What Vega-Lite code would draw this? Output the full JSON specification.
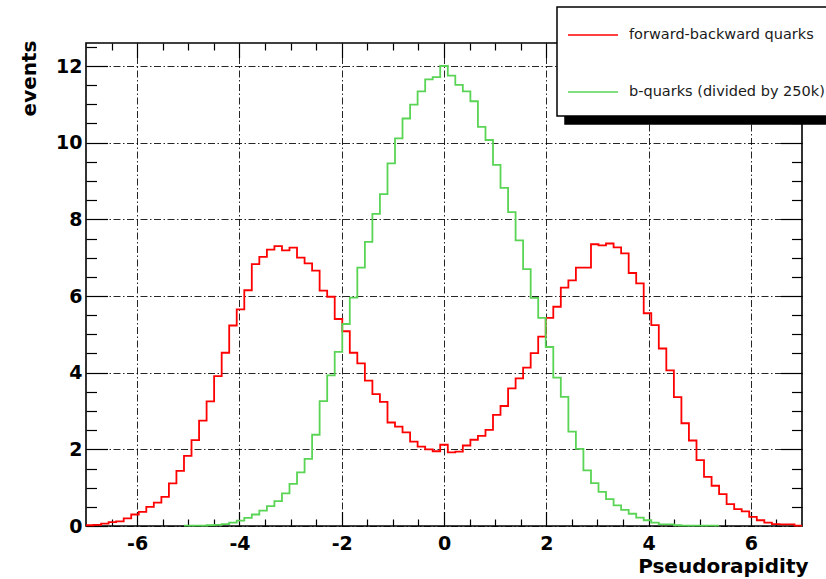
{
  "$schema": "https://vega.github.io/schema/vega-lite/v6.json",
  "width": 716,
  "height": 483,
  "autosize": {"type": "none"},
  "padding": {"left": 86, "top": 43, "right": 24, "bottom": 53},
  "background": "white",
  "datasets": {
    "h": [
      {"s":"forward-backward quarks","eta":-7,"n":0.02},{"s":"forward-backward quarks","eta":-6.853,"n":0.03},{"s":"forward-backward quarks","eta":-6.705,"n":0.06},{"s":"forward-backward quarks","eta":-6.558,"n":0.10},{"s":"forward-backward quarks","eta":-6.411,"n":0.12},{"s":"forward-backward quarks","eta":-6.263,"n":0.20},{"s":"forward-backward quarks","eta":-6.116,"n":0.30},{"s":"forward-backward quarks","eta":-5.968,"n":0.37},{"s":"forward-backward quarks","eta":-5.821,"n":0.50},{"s":"forward-backward quarks","eta":-5.674,"n":0.61},{"s":"forward-backward quarks","eta":-5.526,"n":0.76},{"s":"forward-backward quarks","eta":-5.379,"n":1.11},{"s":"forward-backward quarks","eta":-5.232,"n":1.44},{"s":"forward-backward quarks","eta":-5.084,"n":1.83},{"s":"forward-backward quarks","eta":-4.937,"n":2.24},{"s":"forward-backward quarks","eta":-4.789,"n":2.75},{"s":"forward-backward quarks","eta":-4.642,"n":3.25},{"s":"forward-backward quarks","eta":-4.495,"n":3.91},{"s":"forward-backward quarks","eta":-4.347,"n":4.52},{"s":"forward-backward quarks","eta":-4.2,"n":5.23},{"s":"forward-backward quarks","eta":-4.053,"n":5.65},{"s":"forward-backward quarks","eta":-3.905,"n":6.15},{"s":"forward-backward quarks","eta":-3.758,"n":6.83},{"s":"forward-backward quarks","eta":-3.611,"n":7.02},{"s":"forward-backward quarks","eta":-3.463,"n":7.21},{"s":"forward-backward quarks","eta":-3.316,"n":7.30},{"s":"forward-backward quarks","eta":-3.168,"n":7.19},{"s":"forward-backward quarks","eta":-3.021,"n":7.26},{"s":"forward-backward quarks","eta":-2.874,"n":7.00},{"s":"forward-backward quarks","eta":-2.726,"n":6.85},{"s":"forward-backward quarks","eta":-2.579,"n":6.66},{"s":"forward-backward quarks","eta":-2.432,"n":6.14},{"s":"forward-backward quarks","eta":-2.284,"n":5.98},{"s":"forward-backward quarks","eta":-2.137,"n":5.40},{"s":"forward-backward quarks","eta":-1.989,"n":5.08},{"s":"forward-backward quarks","eta":-1.842,"n":4.52},{"s":"forward-backward quarks","eta":-1.695,"n":4.24},{"s":"forward-backward quarks","eta":-1.547,"n":3.79},{"s":"forward-backward quarks","eta":-1.4,"n":3.44},{"s":"forward-backward quarks","eta":-1.253,"n":3.24},{"s":"forward-backward quarks","eta":-1.105,"n":2.70},{"s":"forward-backward quarks","eta":-0.958,"n":2.59},{"s":"forward-backward quarks","eta":-0.811,"n":2.44},{"s":"forward-backward quarks","eta":-0.663,"n":2.20},{"s":"forward-backward quarks","eta":-0.516,"n":2.07},{"s":"forward-backward quarks","eta":-0.368,"n":2.00},{"s":"forward-backward quarks","eta":-0.221,"n":1.95},{"s":"forward-backward quarks","eta":-0.074,"n":2.12},{"s":"forward-backward quarks","eta":0.074,"n":1.92},{"s":"forward-backward quarks","eta":0.221,"n":1.94},{"s":"forward-backward quarks","eta":0.368,"n":2.10},{"s":"forward-backward quarks","eta":0.516,"n":2.25},{"s":"forward-backward quarks","eta":0.663,"n":2.35},{"s":"forward-backward quarks","eta":0.811,"n":2.51},{"s":"forward-backward quarks","eta":0.958,"n":2.90},{"s":"forward-backward quarks","eta":1.105,"n":3.13},{"s":"forward-backward quarks","eta":1.253,"n":3.59},{"s":"forward-backward quarks","eta":1.4,"n":3.85},{"s":"forward-backward quarks","eta":1.547,"n":4.13},{"s":"forward-backward quarks","eta":1.695,"n":4.51},{"s":"forward-backward quarks","eta":1.842,"n":4.94},{"s":"forward-backward quarks","eta":1.989,"n":5.43},{"s":"forward-backward quarks","eta":2.137,"n":5.72},{"s":"forward-backward quarks","eta":2.284,"n":6.22},{"s":"forward-backward quarks","eta":2.432,"n":6.41},{"s":"forward-backward quarks","eta":2.579,"n":6.74},{"s":"forward-backward quarks","eta":2.726,"n":6.74},{"s":"forward-backward quarks","eta":2.874,"n":7.35},{"s":"forward-backward quarks","eta":3.021,"n":7.32},{"s":"forward-backward quarks","eta":3.168,"n":7.37},{"s":"forward-backward quarks","eta":3.316,"n":7.27},{"s":"forward-backward quarks","eta":3.463,"n":7.11},{"s":"forward-backward quarks","eta":3.611,"n":6.60},{"s":"forward-backward quarks","eta":3.758,"n":6.33},{"s":"forward-backward quarks","eta":3.905,"n":5.55},{"s":"forward-backward quarks","eta":4.053,"n":5.24},{"s":"forward-backward quarks","eta":4.2,"n":4.63},{"s":"forward-backward quarks","eta":4.347,"n":4.06},{"s":"forward-backward quarks","eta":4.495,"n":3.36},{"s":"forward-backward quarks","eta":4.642,"n":2.68},{"s":"forward-backward quarks","eta":4.789,"n":2.23},{"s":"forward-backward quarks","eta":4.937,"n":1.72},{"s":"forward-backward quarks","eta":5.084,"n":1.28},{"s":"forward-backward quarks","eta":5.232,"n":1.05},{"s":"forward-backward quarks","eta":5.379,"n":0.83},{"s":"forward-backward quarks","eta":5.526,"n":0.57},{"s":"forward-backward quarks","eta":5.674,"n":0.44},{"s":"forward-backward quarks","eta":5.821,"n":0.38},{"s":"forward-backward quarks","eta":5.968,"n":0.24},{"s":"forward-backward quarks","eta":6.116,"n":0.15},{"s":"forward-backward quarks","eta":6.263,"n":0.09},{"s":"forward-backward quarks","eta":6.411,"n":0.05},{"s":"forward-backward quarks","eta":6.558,"n":0.04},{"s":"forward-backward quarks","eta":6.705,"n":0.04},{"s":"forward-backward quarks","eta":6.853,"n":0.01},{"s":"forward-backward quarks","eta":7,"n":0.01},
      {"s":"b-quarks (divided by 250k)","eta":-5.084,"n":0.01},{"s":"b-quarks (divided by 250k)","eta":-4.937,"n":0.01},{"s":"b-quarks (divided by 250k)","eta":-4.789,"n":0.01},{"s":"b-quarks (divided by 250k)","eta":-4.642,"n":0.02},{"s":"b-quarks (divided by 250k)","eta":-4.495,"n":0.03},{"s":"b-quarks (divided by 250k)","eta":-4.347,"n":0.05},{"s":"b-quarks (divided by 250k)","eta":-4.2,"n":0.09},{"s":"b-quarks (divided by 250k)","eta":-4.053,"n":0.14},{"s":"b-quarks (divided by 250k)","eta":-3.905,"n":0.21},{"s":"b-quarks (divided by 250k)","eta":-3.758,"n":0.30},{"s":"b-quarks (divided by 250k)","eta":-3.611,"n":0.40},{"s":"b-quarks (divided by 250k)","eta":-3.463,"n":0.52},{"s":"b-quarks (divided by 250k)","eta":-3.316,"n":0.65},{"s":"b-quarks (divided by 250k)","eta":-3.168,"n":0.85},{"s":"b-quarks (divided by 250k)","eta":-3.021,"n":1.10},{"s":"b-quarks (divided by 250k)","eta":-2.874,"n":1.40},{"s":"b-quarks (divided by 250k)","eta":-2.726,"n":1.75},{"s":"b-quarks (divided by 250k)","eta":-2.579,"n":2.38},{"s":"b-quarks (divided by 250k)","eta":-2.432,"n":3.26},{"s":"b-quarks (divided by 250k)","eta":-2.284,"n":3.93},{"s":"b-quarks (divided by 250k)","eta":-2.137,"n":4.54},{"s":"b-quarks (divided by 250k)","eta":-1.989,"n":5.27},{"s":"b-quarks (divided by 250k)","eta":-1.842,"n":5.96},{"s":"b-quarks (divided by 250k)","eta":-1.695,"n":6.74},{"s":"b-quarks (divided by 250k)","eta":-1.547,"n":7.41},{"s":"b-quarks (divided by 250k)","eta":-1.4,"n":8.14},{"s":"b-quarks (divided by 250k)","eta":-1.253,"n":8.66},{"s":"b-quarks (divided by 250k)","eta":-1.105,"n":9.46},{"s":"b-quarks (divided by 250k)","eta":-0.958,"n":10.11},{"s":"b-quarks (divided by 250k)","eta":-0.811,"n":10.63},{"s":"b-quarks (divided by 250k)","eta":-0.663,"n":10.99},{"s":"b-quarks (divided by 250k)","eta":-0.516,"n":11.34},{"s":"b-quarks (divided by 250k)","eta":-0.368,"n":11.65},{"s":"b-quarks (divided by 250k)","eta":-0.221,"n":11.71},{"s":"b-quarks (divided by 250k)","eta":-0.074,"n":12.00},{"s":"b-quarks (divided by 250k)","eta":0.074,"n":11.75},{"s":"b-quarks (divided by 250k)","eta":0.221,"n":11.51},{"s":"b-quarks (divided by 250k)","eta":0.368,"n":11.34},{"s":"b-quarks (divided by 250k)","eta":0.516,"n":11.08},{"s":"b-quarks (divided by 250k)","eta":0.663,"n":10.41},{"s":"b-quarks (divided by 250k)","eta":0.811,"n":10.07},{"s":"b-quarks (divided by 250k)","eta":0.958,"n":9.42},{"s":"b-quarks (divided by 250k)","eta":1.105,"n":8.82},{"s":"b-quarks (divided by 250k)","eta":1.253,"n":8.19},{"s":"b-quarks (divided by 250k)","eta":1.4,"n":7.45},{"s":"b-quarks (divided by 250k)","eta":1.547,"n":6.70},{"s":"b-quarks (divided by 250k)","eta":1.695,"n":5.95},{"s":"b-quarks (divided by 250k)","eta":1.842,"n":5.43},{"s":"b-quarks (divided by 250k)","eta":1.989,"n":4.67},{"s":"b-quarks (divided by 250k)","eta":2.137,"n":3.87},{"s":"b-quarks (divided by 250k)","eta":2.284,"n":3.37},{"s":"b-quarks (divided by 250k)","eta":2.432,"n":2.46},{"s":"b-quarks (divided by 250k)","eta":2.579,"n":2.01},{"s":"b-quarks (divided by 250k)","eta":2.726,"n":1.45},{"s":"b-quarks (divided by 250k)","eta":2.874,"n":1.12},{"s":"b-quarks (divided by 250k)","eta":3.021,"n":0.89},{"s":"b-quarks (divided by 250k)","eta":3.168,"n":0.70},{"s":"b-quarks (divided by 250k)","eta":3.316,"n":0.54},{"s":"b-quarks (divided by 250k)","eta":3.463,"n":0.42},{"s":"b-quarks (divided by 250k)","eta":3.611,"n":0.32},{"s":"b-quarks (divided by 250k)","eta":3.758,"n":0.22},{"s":"b-quarks (divided by 250k)","eta":3.905,"n":0.15},{"s":"b-quarks (divided by 250k)","eta":4.053,"n":0.09},{"s":"b-quarks (divided by 250k)","eta":4.2,"n":0.04},{"s":"b-quarks (divided by 250k)","eta":4.347,"n":0.04},{"s":"b-quarks (divided by 250k)","eta":4.495,"n":0.02},{"s":"b-quarks (divided by 250k)","eta":4.642,"n":0.01},{"s":"b-quarks (divided by 250k)","eta":4.789,"n":0.01},{"s":"b-quarks (divided by 250k)","eta":4.937,"n":0.01},{"s":"b-quarks (divided by 250k)","eta":5.084,"n":0.01},{"s":"b-quarks (divided by 250k)","eta":5.232,"n":0.01},{"s":"b-quarks (divided by 250k)","eta":5.379,"n":0.01}
    ]
  },
  "data": {"name": "h"},
  "layer": [
    {
      "mark": {"type": "line", "interpolate": "step-after", "strokeWidth": 1.8},
      "encoding": {
        "x": {"field": "eta", "type": "quantitative", "scale": {"domain": [-7, 7], "nice": false, "zero": false},
          "axis": {"orient": "bottom", "values": [-6, -4, -2, 0, 2, 4, 6], "grid": true, "tickSize": -14.5, "labelPadding": 22.5, "labelExpr": "'' + datum.value",
            "title": "Pseudorapidity", "titleAnchor": "end", "titleAlign": "right", "titleBaseline": "alphabetic", "titleX": 722, "titleY": 46}},
        "y": {"field": "n", "type": "quantitative", "scale": {"domain": [0, 12.6], "nice": false, "zero": false},
          "axis": {"orient": "left", "values": [0, 2, 4, 6, 8, 10, 12], "grid": true, "tickSize": -21.5, "labelPadding": 25.5,
            "title": "events", "titleAngle": -90, "titleAnchor": "end", "titleAlign": "right", "titleBaseline": "alphabetic", "titleX": -51, "titleY": -3}},
        "color": {"field": "s", "type": "nominal",
          "scale": {"domain": ["forward-backward quarks", "b-quarks (divided by 250k)"], "range": ["#ff0000", "#59d454"]},
          "legend": {"orient": "none", "legendX": 471, "legendY": -36, "title": "\u00a0", "titleOrient": "bottom", "titleFontSize": 8, "titlePadding": 7, "direction": "vertical", "fillColor": "#ffffff", "strokeColor": "#000000", "padding": 2, "symbolType": "stroke", "symbolSize": 2500, "symbolStrokeWidth": 1.5, "symbolOffset": 8, "labelOffset": 10, "labelFont": "DejaVu Sans", "labelFontSize": 14.5, "labelColor": "#1a1a1a", "labelLimit": 400, "rowPadding": 24, "zindex": 2}}
      }
    },
    {
      "mark": {"type": "line", "interpolate": "step-after", "strokeOpacity": 0, "fillOpacity": 0},
      "encoding": {
        "x": {"field": "eta", "type": "quantitative", "scale": {"domain": [-7, 7], "nice": false, "zero": false},
          "axis": {"orient": "top", "values": [-6.5, -5.5, -5, -4.5, -3.5, -3, -2.5, -1.5, -1, -0.5, 0.5, 1, 1.5, 2.5, 3, 3.5, 4.5, 5, 5.5, 6.5], "labels": false, "tickSize": -7, "title": null}},
        "y": {"field": "n", "type": "quantitative", "scale": {"domain": [0, 12.6], "nice": false, "zero": false},
          "axis": {"orient": "right", "values": [0.5, 1, 1.5, 2.5, 3, 3.5, 4.5, 5, 5.5, 6.5, 7, 7.5, 8.5, 9, 9.5, 10.5, 11, 11.5, 12.5], "labels": false, "tickSize": -10.5, "title": null}},
        "detail": {"field": "s"},
        "fill": {"field": "n", "type": "quantitative", "scale": {"range": ["#000000", "#000000"]},
          "legend": {"orient": "none", "legendX": 479, "legendY": -28, "direction": "horizontal", "title": null, "gradientLength": 270, "gradientThickness": 108, "gradientStrokeWidth": 0, "padding": 0, "fillColor": "#000000", "strokeColor": "#000000", "labelExpr": "''", "labelFontSize": 1, "labelOffset": 0, "zindex": 1}}
      }
    },
    {
      "mark": {"type": "line", "interpolate": "step-after", "opacity": 0},
      "encoding": {
        "x": {"field": "eta", "type": "quantitative", "scale": {"domain": [-7, 7], "nice": false, "zero": false},
          "axis": {"orient": "bottom", "values": [-6.5, -5.5, -5, -4.5, -3.5, -3, -2.5, -1.5, -1, -0.5, 0.5, 1, 1.5, 2.5, 3, 3.5, 4.5, 5, 5.5, 6.5], "labels": false, "tickSize": -7, "title": null}},
        "y": {"field": "n", "type": "quantitative", "scale": {"domain": [0, 12.6], "nice": false, "zero": false},
          "axis": {"orient": "left", "values": [0.5, 1, 1.5, 2.5, 3, 3.5, 4.5, 5, 5.5, 6.5, 7, 7.5, 8.5, 9, 9.5, 10.5, 11, 11.5, 12.5], "labels": false, "tickSize": -10.5, "title": null}},
        "detail": {"field": "s"}
      }
    },
    {
      "mark": {"type": "line", "interpolate": "step-after", "opacity": 0},
      "encoding": {
        "x": {"field": "eta", "type": "quantitative", "scale": {"domain": [-7, 7], "nice": false, "zero": false},
          "axis": {"orient": "top", "values": [-6, -4, -2, 0, 2, 4, 6], "labels": false, "tickSize": -14.5, "title": null}},
        "y": {"field": "n", "type": "quantitative", "scale": {"domain": [0, 12.6], "nice": false, "zero": false},
          "axis": {"orient": "right", "values": [2, 4, 6, 8, 10, 12], "labels": false, "tickSize": -21.5, "title": null}},
        "detail": {"field": "s"}
      }
    }
  ],
  "resolve": {"axis": {"x": "independent", "y": "independent"}},
  "config": {
    "view": {"stroke": "#000000", "strokeWidth": 1.6},
    "legend": {"strokeWidth": 1.5, "gradientHorizontalMaxLength": 400},
    "axis": {"domain": false, "grid": false, "labelFont": "DejaVu Sans", "labelFontWeight": "bold", "labelFontSize": 19, "labelColor": "#000000",
      "tickColor": "#000000", "tickWidth": 1.2, "titleFont": "DejaVu Sans", "titleFontWeight": "bold", "titleFontSize": 20, "titleColor": "#000000",
      "gridColor": "#000000", "gridWidth": 1, "gridOpacity": 0.85, "gridDash": [7, 2.5, 1.5, 2.5], "labelFlush": false, "labelOverlap": false}
  }
}
